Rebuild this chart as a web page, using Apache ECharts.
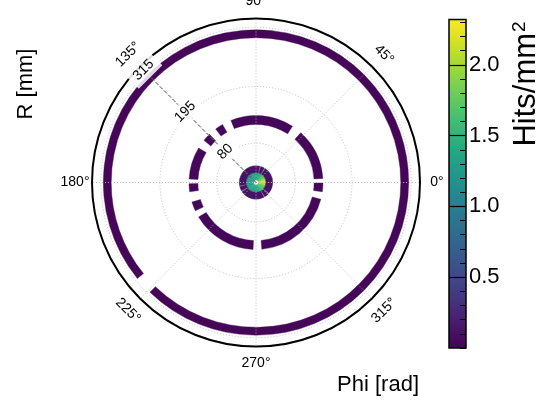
<!DOCTYPE html>
<html><head><meta charset="utf-8">
<script src="https://cdn.jsdelivr.net/npm/echarts@6/dist/echarts.min.js"></script>
<style>html,body{margin:0;padding:0;background:#fff}#c{width:542px;height:400px}</style>
</head><body><div id="c"></div>
<script>
// ---------------- data ----------------
const angleTicks = [0, 45, 90, 135, 180, 225, 270, 315];
const radialTicks = [80, 195, 315];
const radialLabelAngle = 135;
const colorbarTicks = [0.5, 1.0, 1.5, 2.0];
const colorMin = 0, colorMax = 2.32;
const rMax = 333;

// inner core (hits/mm^2), 15 degree bins from 0 to 360
const coreR = [5, 20];
const corePhiStep = 15;
const coreValues = [2.25, 1.95, 1.7, 1.55, 1.45, 1.4, 1.35, 1.35, 1.3, 1.3, 1.3, 1.3,
                    1.3, 1.3, 1.3, 1.3, 1.35, 1.35, 1.4, 1.45, 1.55, 1.65, 1.8, 2.05];

// inner annulus
const annulusR = [20, 34];
const annulusSegments = [[0, 57], [59.5, 74], [76.5, 191], [193.5, 211], [213.5, 299], [301.5, 317], [319.5, 360]];
const annulusValue = 0.12;

// middle ring
const middleR = [118, 136];
const middleSegments = [[3.5, 48], [57, 112], [120, 127], [134, 141], [149, 177], [181, 188],
                        [197, 205], [211, 267.5], [275, 345.5], [352, 359.5]];
const middleValue = 0.04;

// outer ring
const outerR = [294, 310];
const outerSegments = [[0, 219], [226, 360]];
const outerValue = 0.03;

const viridis = ['#440154', '#482475', '#414487', '#355f8d', '#2a788e', '#21918c',
                 '#22a884', '#44bf70', '#7ad151', '#bddf26', '#fde725'];

// ---------------- build ----------------
const cells = [];
coreValues.forEach((v, i) => cells.push([coreR[0], coreR[1], i * corePhiStep, (i + 1) * corePhiStep, v]));
annulusSegments.forEach(s => cells.push([annulusR[0], annulusR[1], s[0], s[1], annulusValue]));
middleSegments.forEach(s => cells.push([middleR[0], middleR[1], s[0], s[1], middleValue]));
outerSegments.forEach(s => cells.push([outerR[0], outerR[1], s[0], s[1], outerValue]));

const FONT = '"Liberation Sans", Arial, Helvetica, sans-serif';
const chart = echarts.init(document.getElementById('c'), null, {renderer: 'canvas'});

function polarPt(cs, rpx, deg) {
  const a = deg * Math.PI / 180;
  return [cs.cx + rpx * Math.cos(a), cs.cy - rpx * Math.sin(a)];
}

const cbarRect = { left: 449, top: 19.5, width: 17, height: 328.5 };

const option = {
  animation: false,
  backgroundColor: '#fff',
  polar: { center: [256, 182.5], radius: 164 },
  angleAxis: {
    type: 'value', min: 0, max: 360, interval: 45, startAngle: 0, clockwise: false,
    axisLine: { show: true, lineStyle: { color: '#000', width: 2 } },
    axisTick: { show: false }, axisLabel: { show: false }, splitLine: { show: false }
  },
  radiusAxis: {
    type: 'value', min: 0, max: rMax,
    axisLine: { show: false }, axisTick: { show: false }, axisLabel: { show: false }, splitLine: { show: false }
  },
  grid: [
    Object.assign({ show: true, borderColor: '#000', borderWidth: 1.5, backgroundColor: 'transparent', z: 6 }, cbarRect),
    Object.assign({ show: false }, cbarRect)
  ],
  xAxis: [
    { type: 'value', min: 0, max: 1, show: false, gridIndex: 0 },
    { type: 'value', min: 0, max: 1, show: false, gridIndex: 1 }
  ],
  yAxis: [
    { gridIndex: 0, type: 'value', position: 'right', min: colorMin, max: colorMax, interval: 0.5, z: 8,
      axisLine: { show: false, onZero: false },
      axisTick: { show: true, inside: true, length: 17, lineStyle: { color: '#000', width: 1.2 },
                  customValues: colorbarTicks },
      axisLabel: { show: true, margin: 3, fontSize: 22, color: '#000', fontFamily: FONT,
                   customValues: colorbarTicks, formatter: v => v.toFixed(1) },
      splitLine: { show: false } },
    { gridIndex: 1, type: 'value', position: 'right', min: colorMin, max: colorMax, interval: 0.1, z: 8,
      axisLine: { show: false, onZero: false },
      axisTick: { show: true, inside: true, length: 6, lineStyle: { color: '#000', width: 1 } },
      axisLabel: { show: false }, splitLine: { show: false } }
  ],
  visualMap: {
    type: 'continuous', show: false, min: colorMin, max: colorMax, dimension: 4, seriesIndex: [1],
    inRange: { color: viridis }
  },
  series: [
    { // colorbar gradient
      type: 'custom', coordinateSystem: 'cartesian2d', xAxisIndex: 0, yAxisIndex: 0, z: 1,
      data: [[0, colorMin, 1, colorMax]],
      renderItem: (params, api) => {
        const p0 = api.coord([api.value(0), api.value(3)]);
        const p1 = api.coord([api.value(2), api.value(1)]);
        return { type: 'rect', shape: { x: p0[0], y: p0[1], width: p1[0] - p0[0], height: p1[1] - p0[1] },
          style: { fill: { type: 'linear', x: 0, y: 1, x2: 0, y2: 0,
            colorStops: viridis.map((c, i) => ({ offset: i / (viridis.length - 1), color: c })) } } };
      }
    },
    { // polar heatmap cells
      type: 'custom', coordinateSystem: 'polar', z: 2,
      encode: { radius: [0, 1], angle: [2, 3] },
      data: cells,
      renderItem: (params, api) => {
        const a = api.coord([api.value(0), api.value(2)]);
        const b = api.coord([api.value(1), api.value(3)]);
        const cs = params.coordSys;
        const col = api.visual('color');
        return { type: 'sector',
          shape: { cx: cs.cx, cy: cs.cy, r0: a[2], r: b[2], startAngle: -b[3], endAngle: -a[3], clockwise: true },
          style: { fill: col, stroke: col, lineWidth: 0.4 } };
      }
    },
    { // radial grid circles
      type: 'custom', coordinateSystem: 'polar', z: 3, silent: true,
      data: radialTicks.map(v => [v, 0]),
      renderItem: (params, api) => {
        const p = api.coord([api.value(0), 0]);
        const cs = params.coordSys;
        return { type: 'circle', shape: { cx: cs.cx, cy: cs.cy, r: p[2] },
          style: { fill: null, stroke: '#b8b8b8', lineWidth: 0.9, lineDash: [1, 2] } };
      }
    },
    { // angular grid spokes
      type: 'custom', coordinateSystem: 'polar', z: 3, silent: true,
      data: angleTicks.map(a => [rMax, a]),
      renderItem: (params, api) => {
        const p = api.coord([api.value(0), api.value(1)]);
        const cs = params.coordSys;
        return { type: 'line', shape: { x1: cs.cx, y1: cs.cy, x2: p[0], y2: p[1] },
          style: { stroke: '#b8b8b8', lineWidth: 0.9, lineDash: [1, 2] } };
      }
    },
    { // radial axis dashed line
      type: 'custom', coordinateSystem: 'polar', z: 4, silent: true,
      data: [[radialTicks[radialTicks.length - 1], radialLabelAngle]],
      renderItem: (params, api) => {
        const p = api.coord([api.value(0), api.value(1)]);
        const cs = params.coordSys;
        return { type: 'line', shape: { x1: cs.cx, y1: cs.cy, x2: p[0], y2: p[1] },
          style: { stroke: '#555', lineWidth: 1, lineDash: [4, 2] } };
      }
    },
    { // radial tick labels
      type: 'custom', coordinateSystem: 'polar', z: 5, silent: true,
      data: radialTicks.map(v => [v, radialLabelAngle]),
      renderItem: (params, api) => {
        const p = api.coord([api.value(0), api.value(1)]);
        const pos = polarPt(params.coordSys, p[2] + 4, api.value(1));
        return { type: 'text', x: pos[0], y: pos[1], rotation: (api.value(1) - 90) * Math.PI / 180,
          style: { text: String(api.value(0)), x: 0, y: 0, align: 'center', verticalAlign: 'middle',
            fill: '#000', font: '14px ' + FONT, backgroundColor: 'rgba(255,255,255,0.85)', padding: [3, 5] } };
      }
    },
    { // angle tick labels
      type: 'custom', coordinateSystem: 'polar', z: 5, silent: true,
      data: angleTicks.map(a => [rMax, a]),
      renderItem: (params, api) => {
        const deg = api.value(1);
        const p = api.coord([api.value(0), deg]);
        const pos = polarPt(params.coordSys, p[2] + 17, deg);
        let rot = 0;
        if (deg % 90 !== 0) { rot = deg - 90; while (rot > 90) rot -= 180; while (rot < -90) rot += 180; }
        return { type: 'text', x: pos[0], y: pos[1], rotation: rot * Math.PI / 180,
          style: { text: deg + '°', x: 0, y: 0, align: 'center', verticalAlign: 'middle',
            fill: '#000', font: '14px ' + FONT } };
      }
    }
  ],
  graphic: [
    { type: 'text', x: 26, y: 84, rotation: Math.PI / 2,
      style: { text: 'R [mm]', x: 0, y: 0, align: 'center', verticalAlign: 'middle', fill: '#000', font: '22px ' + FONT } },
    { type: 'text', x: 419, y: 385,
      style: { text: 'Phi [rad]', x: 0, y: 0, align: 'right', verticalAlign: 'middle', fill: '#000', font: '22px ' + FONT } },
    { type: 'text', x: 526, y: 84, rotation: Math.PI / 2,
      style: { text: 'Hits/mm{sup|2}', x: 0, y: 0, align: 'center', verticalAlign: 'middle', fill: '#000',
        fontFamily: FONT, fontSize: 31,
        rich: { sup: { fontSize: 19, fontFamily: FONT, fill: '#000', verticalAlign: 'top', padding: [0, 0, 0, 1] } } } }
  ]
};
chart.setOption(option);
</script>
</body></html>
